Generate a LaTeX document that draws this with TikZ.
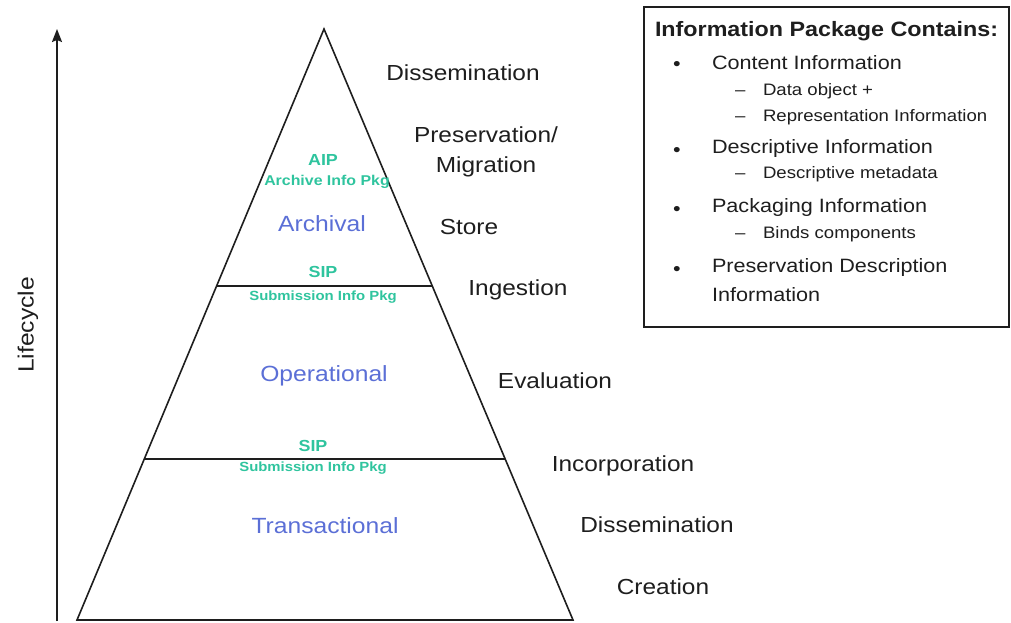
\documentclass[tikz,border=0pt]{standalone}
\usepackage{fontspec}
\setmainfont[FakeStretch=1.12]{Liberation Sans}
\usetikzlibrary{arrows.meta,calc}
\definecolor{lblue}{HTML}{5B6FD6}
\definecolor{lgreen}{HTML}{2FC49E}
\definecolor{ink}{HTML}{1E1E1E}
\begin{document}
\begin{tikzpicture}[x=1pt,y=-1pt,
  every node/.style={inner sep=0pt,outer sep=0pt},
  stage/.style={text=ink,font=\fontsize{21.8}{30}\selectfont,align=center},
  layer/.style={text=lblue,font=\fontsize{22}{24}\selectfont},
  pkg/.style={text=lgreen,font=\bfseries\fontsize{16}{18}\selectfont},
  pkgsub/.style={text=lgreen,font=\bfseries\fontsize{13.3}{15}\selectfont},
  boxtitle/.style={anchor=west,text=ink,font=\bfseries\fontsize{20.8}{24}\selectfont},
  item/.style={anchor=west,text=ink,font=\fontsize{19.3}{22}\selectfont},
  subitem/.style={anchor=west,text=ink,font=\fontsize{16.6}{19}\selectfont},
  edge/.style={draw=ink,line width=1.6pt}]
\useasboundingbox (0,0) rectangle (1011,622);
% pyramid
\coordinate (apex) at (324,29);
\coordinate (bl) at (77,620);
\coordinate (br) at (573,620);
\draw[edge,line join=miter] (apex) -- (bl) -- (br) -- cycle;
\coordinate (l1) at ($(apex)!{(286-29)/(620-29)}!(bl)$);
\coordinate (r1) at ($(apex)!{(286-29)/(620-29)}!(br)$);
\coordinate (l2) at ($(apex)!{(459-29)/(620-29)}!(bl)$);
\coordinate (r2) at ($(apex)!{(459-29)/(620-29)}!(br)$);
\draw[edge] (l1) -- (r1);
\draw[edge] (l2) -- (r2);
% lifecycle axis
\coordinate (abot) at (57,621);
\coordinate (atop) at (57,29);
\draw[edge,-{Stealth[length=13pt,width=10pt,inset=2pt]}] (abot) -- (atop);
\node[rotate=90,text=ink,font=\fontsize{22}{24}\selectfont] (life) at (28,325) {Lifecycle};
% layer names
\node[layer] (arch) at (322,224) {Archival};
\node[layer] (oper) at (324,376) {Operational};
\node[layer] (trans) at (325,526) {Transactional};
% packages
\node[pkg] (aip) at (323,160) {AIP};
\node[pkgsub,font=\bfseries\fontsize{14.2}{16}\selectfont] (aipt) at (327,182) {Archive Info Pkg};
\node[pkg] (sip1) at (323,272) {SIP};
\node[pkgsub] (sip1t) at (323,297) {Submission Info Pkg};
\node[pkg] (sip2) at (313,446) {SIP};
\node[pkgsub] (sip2t) at (313,468) {Submission Info Pkg};
% stages
\node[stage] (s1) at (463,73) {Dissemination};
\node[stage] (s2) at (486,152) {Preservation/\\Migration};
\node[stage] (s3) at (469,227) {Store};
\node[stage] (s4) at (518,290) {Ingestion};
\node[stage] (s5) at (555,381) {Evaluation};
\node[stage] (s6) at (623,466) {Incorporation};
\node[stage] (s7) at (657,525) {Dissemination};
\node[stage] (s8) at (663,587) {Creation};
% info box
\node[draw=ink,line width=1.6pt,minimum width=365pt,minimum height=320pt,anchor=north west] (box) at (644,7) {};
\node[boxtitle] (t0) at (655,31) {Information Package Contains:};
\node[item] (b1) at (673,66) {•};
\node[item] (i1) at (712,63) {Content Information};
\node[subitem] (d1) at (735,93) {–};
\node[subitem] (j1) at (763,91) {Data object +};
\node[subitem] (d2) at (735,119) {–};
\node[subitem] (j2) at (763,117) {Representation Information};
\node[item] (b2) at (673,152) {•};
\node[item] (i2) at (712,149) {Descriptive Information};
\node[subitem] (d3) at (735,176) {–};
\node[subitem] (j3) at (763,174) {Descriptive metadata};
\node[item] (b3) at (673,211) {•};
\node[item] (i3) at (712,208) {Packaging Information};
\node[subitem] (d4) at (735,236) {–};
\node[subitem] (j4) at (763,234) {Binds components};
\node[item] (b4) at (673,271) {•};
\node[item] (i4) at (712,268) {Preservation Description};
\node[item] (i5) at (712,295) {Information};
\end{tikzpicture}
\end{document}
